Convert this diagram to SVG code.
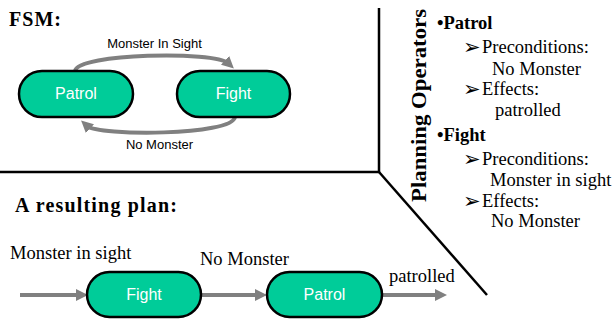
<svg xmlns="http://www.w3.org/2000/svg" width="613" height="320" viewBox="0 0 613 320">
<style>
.node{fill:#00CC99;stroke:#000;stroke-width:2.5}
.nlabel{font-family:"Liberation Sans",Arial,sans-serif;font-size:16px;fill:#fff;text-anchor:middle}
.elabel{font-family:"Liberation Sans",Arial,sans-serif;font-size:13px;fill:#000;text-anchor:middle}
.conn{fill:none;stroke:#808080;stroke-width:4}
.title{font-family:"Liberation Serif","Times New Roman",serif;font-size:20px;font-weight:bold;fill:#000}
.txt{font-family:"Liberation Serif","Times New Roman",serif;font-size:18.5px;fill:#000}
.bold{font-weight:bold}
.arr{font-family:"DejaVu Sans",sans-serif;font-size:21px;fill:#000}
.sep{fill:none;stroke:#000;stroke-width:2.5}
</style>
<defs>
<marker id="ah" viewBox="0 0 12 12" refX="4" refY="6" markerWidth="12" markerHeight="12" markerUnits="userSpaceOnUse" orient="auto">
<path d="M0,0 L12,6 L0,12 z" fill="#808080"/>
</marker>
</defs>
<rect width="613" height="320" fill="#fff"/>
<g id="separators">
<path class="sep" d="M379,8 L379,172 L0,172"/>
<path class="sep" d="M379,172 L487,295"/>
</g>
<text class="title" x="9" y="26" textLength="52">FSM:</text>
<text class="title" x="15" y="212" textLength="162">A resulting plan:</text>
<g id="connectors">
<path class="conn" d="M75,71 C78,53 215,51 228,63" marker-end="url(#ah)"/>
<path class="conn" d="M235,117 C232,136 98,136 87,126" marker-end="url(#ah)"/>
<path class="conn" d="M20,295 L80,295" marker-end="url(#ah)"/>
<path class="conn" d="M201,295 L259,295" marker-end="url(#ah)"/>
<path class="conn" d="M382,295 L439,295" marker-end="url(#ah)"/>
<text class="elabel" x="154.5" y="48">Monster In Sight</text>
<text class="elabel" x="159.5" y="149">No Monster</text>
<text class="txt" x="10" y="259">Monster in sight</text>
<text class="txt" x="200" y="265">No Monster</text>
<text class="txt" x="389" y="282">patrolled</text>
</g>
<g id="fsm-patrol">
<rect class="node" x="19" y="71" width="114" height="46" rx="23"/>
<text class="nlabel" x="76" y="99">Patrol</text>
</g>
<g id="fsm-fight">
<rect class="node" x="177" y="71" width="113" height="46" rx="23"/>
<text class="nlabel" x="233.5" y="99">Fight</text>
</g>
<g id="plan-fight">
<rect class="node" x="87" y="272" width="114" height="45" rx="22.5"/>
<text class="nlabel" x="144" y="300">Fight</text>
</g>
<g id="plan-patrol">
<rect class="node" x="267" y="272" width="115" height="45" rx="22.5"/>
<text class="nlabel" x="324.5" y="300">Patrol</text>
</g>
<g id="operators">
<text class="title" transform="translate(426,202) rotate(-90)" x="0" y="0" textLength="193" lengthAdjust="spacingAndGlyphs">Planning Operators</text>
<text class="txt bold" x="437" y="29">•Patrol</text>
<text class="arr" x="463" y="54">➢</text>
<text class="txt" x="482" y="53">Preconditions:</text>
<text class="txt" x="492" y="75">No Monster</text>
<text class="arr" x="463" y="96">➢</text>
<text class="txt" x="482" y="95">Effects:</text>
<text class="txt" x="495" y="116">patrolled</text>
<text class="txt bold" x="437" y="141">•Fight</text>
<text class="arr" x="463" y="166">➢</text>
<text class="txt" x="482" y="165">Preconditions:</text>
<text class="txt" x="490" y="186">Monster in sight</text>
<text class="arr" x="463" y="208">➢</text>
<text class="txt" x="482" y="207">Effects:</text>
<text class="txt" x="491" y="227">No Monster</text>
</g>
</svg>
